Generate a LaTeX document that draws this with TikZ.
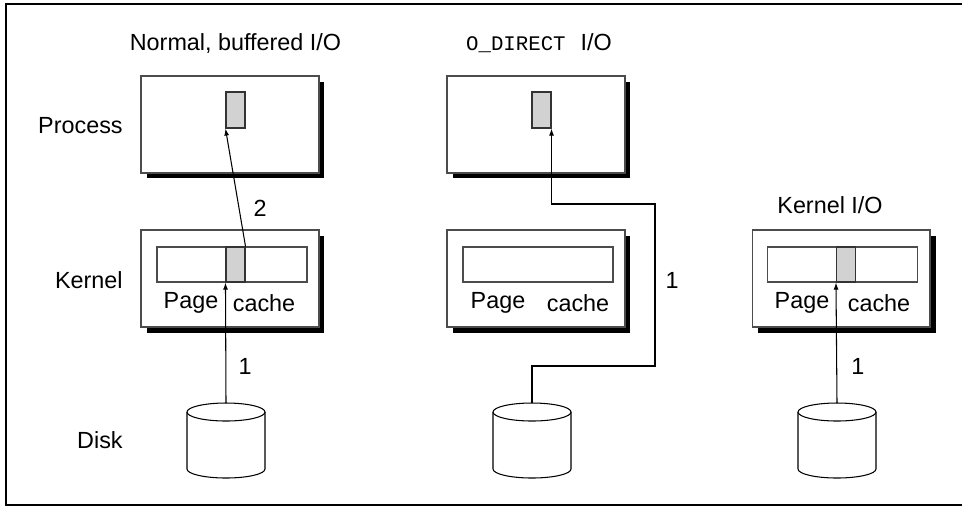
\documentclass[tikz,border=0pt]{standalone}
\usepackage{fontspec}
\setmainfont{Liberation Sans}
\setmonofont{Liberation Mono}
\usepackage{tikz}
\usetikzlibrary{calc,shadows,arrows.meta}

\tikzset{
  boite/.style={draw=black!70, line width=0.6pt, fill=white, inner sep=0pt,
    minimum width=3.56cm, minimum height=1.94cm,
    drop shadow={shadow xshift=0.11cm, shadow yshift=-0.11cm, fill=black, opacity=1}},
  barre/.style={draw=black!70, line width=0.6pt, fill=white, inner sep=0pt,
    minimum width=3.0cm, minimum height=0.7cm},
  bloc/.style={draw=black!80, line width=0.6pt, fill=gray!35, inner sep=0pt,
    minimum width=0.38cm},
  texte/.style={inner sep=0pt, font=\fontsize{13.3}{16}\selectfont},
  fleche/.style={line width=0.6pt, -{Latex[length=4pt,width=2.8pt]}}
}

\begin{document}
\begin{tikzpicture}[x=0.02cm, y=-0.02cm]
  \useasboundingbox (0,0) rectangle (962,508);

      % CADRE
      \draw[line width=1.1pt] (962,4) -- (6,4) -- (6,505) -- (962,505);

      % ETIQUETTES GAUCHE
      \node[texte, anchor=east] (Lproc) at (123,126) {Process};
      \node[texte, anchor=east] (Lkern) at (123,280) {Kernel};
      \node[texte, anchor=east] (Ldisk) at (123,440) {Disk};

      % TITRES
      \node[texte] (T1) at (235.5,44) {Normal, buffered I/O};
      \node[texte] (T2) at (539,43) {{\fontsize{11.8}{14}\selectfont\ttfamily O\_DIRECT}\hspace{0.3cm}I/O};
      \node[texte] (T3) at (830,205) {Kernel I/O};

      % BOITES PROCESS
      \node[boite] (P1) at (230,124.5) {};
      \node[boite] (P2) at (536,124.5) {};
      \node[bloc, minimum height=0.72cm] (PG1) at (235.5,110) {};
      \node[bloc, minimum height=0.72cm] (PG2) at (541.5,110) {};

      % BOITES KERNEL
      \node[boite] (K1) at (230,278.5) {};
      \node[boite] (K2) at (536,278.5) {};
      \node[boite] (K3) at (841,278.5) {};
      \node[barre] (C1) at (232,264.5) {};
      \node[barre] (C2) at (538,264.5) {};
      \node[barre] (C3) at (842.5,264.5) {};
      \node[bloc, minimum height=0.7cm] (G1) at (235.5,264.5) {};
      \node[bloc, minimum height=0.7cm] (G3) at (846,264.5) {};

      \node[texte] (Pa1) at (191,303) {Page};
      \node[texte] (Ca1) at (264,303) {cache};
      \node[texte] (Pa2) at (498,303) {Page};
      \node[texte] (Ca2) at (578,303) {cache};
      \node[texte] (Pa3) at (802,303) {Page};
      \node[texte] (Ca3) at (879,303) {cache};

      % DISQUES
      \foreach \n/\x in {1/226, 2/532, 3/837} {
        \draw[line width=0.6pt, fill=white] (\x-39,412) -- (\x-39,469)
          arc[start angle=180, end angle=360, x radius=39, y radius=-9]
          -- (\x+39,412);
        \draw[line width=0.6pt, fill=white] (\x,412) ellipse[x radius=39, y radius=-9];
        \coordinate (D\n) at (\x,403);
      }

      % FLECHES
      \draw[fleche] (D1) -- (G1.south west) node[texte, pos=0.3, right=7pt] (N1a) {1};
      \draw[fleche] (G1.north east) -- (PG1.south west) node[texte, pos=0.32, right=8pt] (N2) {2};

      \coordinate (B2) at (655,366);
      \coordinate (H2) at (655,204);
      \draw[fleche] (D2) |- (B2) -- (H2) -| (PG2.south east);
      \node[texte] (N1b) at (672,280) {1};

      \draw[fleche] (D3) -- (G3.south west) node[texte, pos=0.3, right=8pt] (N1c) {1};

\end{tikzpicture}
\end{document}
